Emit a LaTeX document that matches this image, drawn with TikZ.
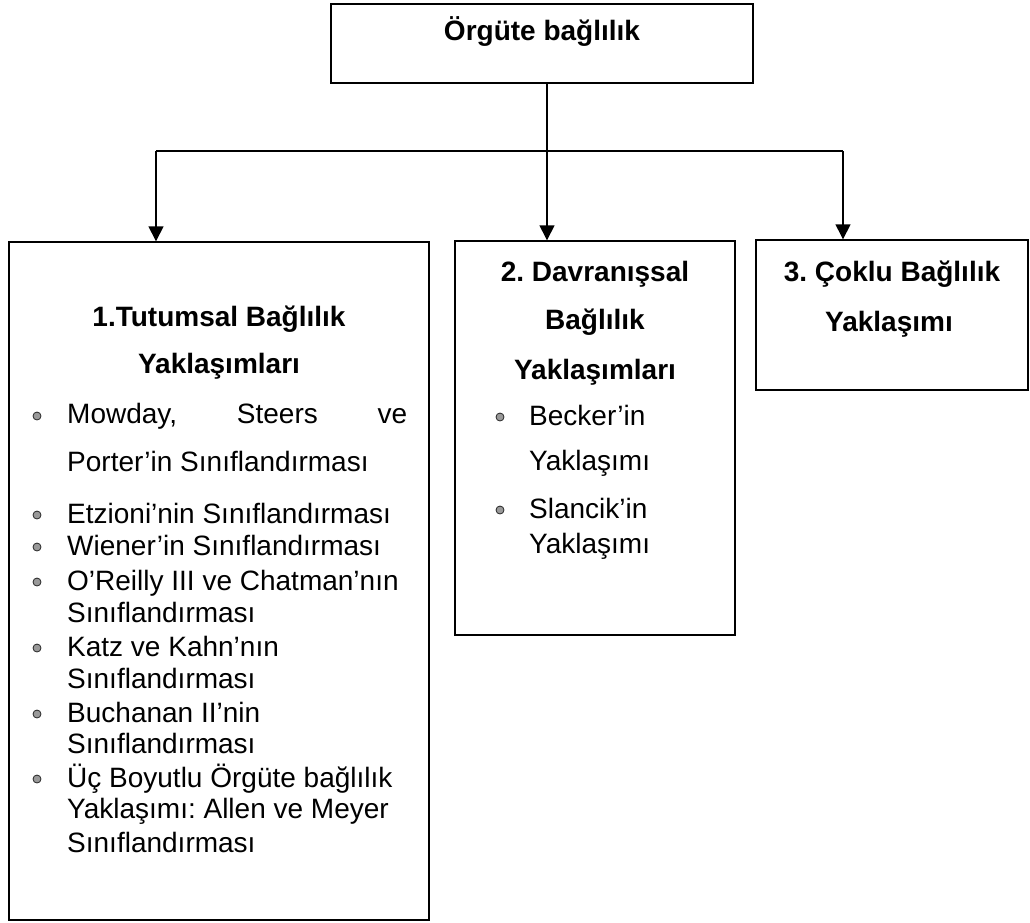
\documentclass[tikz,border=0pt]{standalone}
\usepackage{fontspec}
\setmainfont{Liberation Sans}
\usetikzlibrary{arrows.meta}
\usetikzlibrary{positioning}
\frenchspacing

\tikzset{
  kutu/.style={draw, line width=1.4pt, inner sep=0pt},
  baslik/.style={anchor=base, font=\fontsize{28}{32}\selectfont\bfseries},
  madde/.style={anchor=base west, inner sep=0pt, font=\fontsize{28}{33}\selectfont},
  imi/.style={circle, draw=black!85, fill=black!40, line width=0.8pt, minimum size=8pt, inner sep=0pt},
  baglanti/.style={line width=1.4pt},
  ok/.style={baglanti, -{Triangle[width=15pt,length=15pt]}},
}

\begin{document}
\begin{tikzpicture}[x=1pt, y=-1pt]

\useasboundingbox (0,0) rectangle (1030,922);

% kutular
\node[kutu, minimum width=422pt, minimum height=79pt] (top) at (542,43.5) {};
\node[kutu, minimum width=420pt, minimum height=678pt] (tutum) at (219,581) {};
\node[kutu, minimum width=280pt, minimum height=394pt] (davran) at (595,438) {};
\node[kutu, minimum width=272pt, minimum height=150pt] (coklu) at (892,315) {};

% basliklar
\node[baslik] (ttop) at (542,40) {Örgüte bağlılık};

\node[baslik] (tut1) at (219,326) {1.Tutumsal Bağlılık};
\node[baslik] (tut2) at (219,373) {Yaklaşımları};

\node[baslik] (dav1) at (595,281) {2. Davranışsal};
\node[baslik] (dav2) at (595,329) {Bağlılık};
\node[baslik] (dav3) at (595,379) {Yaklaşımları};

\node[baslik] (cok1) at (892,281) {3. Çoklu Bağlılık};
\node[baslik] (cok2) at (889,331) {Yaklaşımı};

% sol liste
\node[imi] (b1) at (37,416) {};
\node[madde] (m1) at (67,423) {\hbox to 340pt{Mowday,\hfill Steers\hfill ve}};
\node[madde] (m1b) at (67,471) {Porter’in Sınıflandırması};
\node[imi] (b2) at (37,515) {};
\node[madde] (m2) at (67,523) {Etzioni’nin Sınıflandırması};
\node[imi] (b3) at (37,547) {};
\node[madde] (m3) at (67,555) {Wiener’in Sınıflandırması};
\node[imi] (b4) at (37,582) {};
\node[madde] (m4) at (67,590) {O’Reilly III ve Chatman’nın};
\node[madde] (m4b) at (67,622) {Sınıflandırması};
\node[imi] (b5) at (37,648) {};
\node[madde] (m5) at (67,656) {Katz ve Kahn’nın};
\node[madde] (m5b) at (67,688) {Sınıflandırması};
\node[imi] (b6) at (37,714) {};
\node[madde] (m6) at (67,722) {Buchanan II’nin};
\node[madde] (m6b) at (67,753) {Sınıflandırması};
\node[imi] (b7) at (37,779) {};
\node[madde] (m7) at (67,787) {Üç Boyutlu Örgüte bağlılık};
\node[madde] (m7b) at (67,818) {Yaklaşımı: Allen ve Meyer};
\node[madde] (m7c) at (67,852) {Sınıflandırması};

% orta liste
\node[imi] (d1) at (500,417) {};
\node[madde] (n1) at (529,425) {Becker’in};
\node[madde] (n1b) at (529,470) {Yaklaşımı};
\node[imi] (d2) at (500,510) {};
\node[madde] (n2) at (529,518) {Slancik’in};
\node[madde] (n2b) at (529,553) {Yaklaşımı};

% oklar
\coordinate (catal) at (547,151);
\coordinate (solok) at (156,151);
\coordinate (sagok) at (843,151);

\draw[baglanti] (top.south -| catal) -- (catal);
\draw[baglanti] (solok) -- (sagok);
\draw[ok] (solok) -- (tutum.north -| solok);
\draw[ok] (catal) -- (davran.north -| catal);
\draw[ok] (sagok) -- (coklu.north -| sagok);

\end{tikzpicture}
\end{document}
